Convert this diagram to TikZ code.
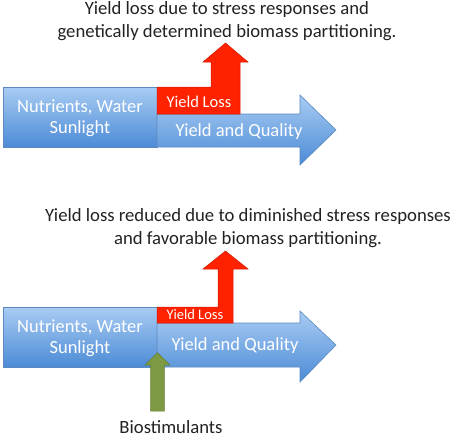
\documentclass[tikz,border=0pt]{standalone}
\usepackage{fontspec}
\setmainfont{Carlito}
\definecolor{bluetop}{HTML}{A9CCF3}
\definecolor{bluebot}{HTML}{4C8BD6}
\definecolor{blueline}{HTML}{5B89BF}
\definecolor{lossred}{HTML}{FF2200}
\definecolor{lossline}{HTML}{D01A00}
\definecolor{biogreen}{HTML}{7D9A43}
\definecolor{textdark}{HTML}{222222}
\tikzset{
  bluebox/.style={top color=bluetop, bottom color=bluebot, draw=blueline, line width=0.6pt},
  redshape/.style={fill=lossred, draw=lossline, line width=0.5pt},
  greenshape/.style={fill=biogreen, draw=biogreen!80!black, line width=0.5pt},
  title/.style={text=textdark, font=\fontsize{18.7}{23}\selectfont, align=center, inner sep=0pt},
  intext/.style={text=white, font=\fontsize{18.5}{21}\selectfont, align=center, inner sep=0pt},
}
\begin{document}
\begin{tikzpicture}[x=1pt,y=-1pt]
\useasboundingbox (0,0) rectangle (454,439);
% ---------- top diagram ----------
\shade[bluebox] (3,87) rectangle (157,147);
\shade[bluebox] (157,114) -- (300,114) -- (300,95) -- (336,130) -- (300,165) -- (300,147) -- (157,147) -- cycle;
\filldraw[redshape] (157,114) -- (157,87) -- (211,87) -- (211,62) -- (203,62) -- (225.5,43) -- (248,62) -- (240,62) -- (240,114) -- cycle;
\node[title] (t1) at (227,21) {Yield loss due to stress responses and\\genetically determined biomass partitioning.};
\node[intext] (n1) at (80,118) {Nutrients, Water\\Sunlight};
\node[intext, font=\fontsize{16.5}{19}\selectfont] (l1) at (199,102) {Yield Loss};
\node[intext] (y1) at (239,132) {Yield and Quality};
% ---------- bottom diagram ----------
\shade[bluebox] (3,307) rectangle (157,367);
\shade[bluebox] (157,323) -- (300,323) -- (300,311) -- (336,345) -- (300,382) -- (300,367) -- (157,367) -- cycle;
\filldraw[redshape] (157,323) -- (157,307) -- (218,307) -- (218,269) -- (203,269) -- (225.5,251) -- (248,269) -- (233,269) -- (233,323) -- cycle;
\filldraw[greenshape] (150.7,411) -- (150.7,365) -- (145,365) -- (157.5,352.7) -- (170,365) -- (164.3,365) -- (164.3,411) -- cycle;
\node[title] (t2) at (248,228) {Yield loss reduced due to diminished stress responses\\and favorable biomass partitioning.};
\node[intext] (n2) at (80,338) {Nutrients, Water\\Sunlight};
\node[intext, font=\fontsize{14.5}{17}\selectfont] (l2) at (195,315) {Yield Loss};
\node[intext] (y2) at (235,346) {Yield and Quality};
\node[title] (b) at (171,427.5) {Biostimulants};
\end{tikzpicture}
\end{document}
